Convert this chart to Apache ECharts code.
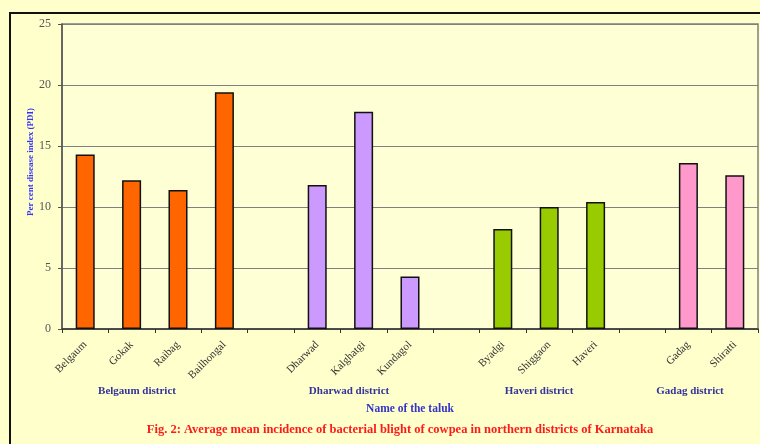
<!DOCTYPE html>
<html>
<head>
<meta charset="utf-8">
<style>
  html, body { margin: 0; padding: 0; background: #FFFFCC; }
  #chart { width: 760px; height: 444px; }
</style>
<script src="https://cdn.jsdelivr.net/npm/echarts@6/dist/echarts.min.js"></script>
</head>
<body>
<div id="chart"></div>
<script>
// talukas, with blank slots between districts
const taluks = ['Belgaum', 'Gokak', 'Raibag', 'Bailhongal', '',
  'Dharwad', 'Kalghatgi', 'Kundagol', '',
  'Byadgi', 'Shiggaon', 'Haveri', '',
  'Gadag', 'Shiratti'];
const pdi = [14.3, 12.2, 11.4, 19.4, null,
  11.8, 17.8, 4.3, null,
  8.2, 10.0, 10.4, null,
  13.6, 12.6];
const barColors = ['#FF6600', '#FF6600', '#FF6600', '#FF6600', null,
  '#CC99FF', '#CC99FF', '#CC99FF', null,
  '#99CC00', '#99CC00', '#99CC00', null,
  '#FF99CC', '#FF99CC'];
const districts = ['Belgaum district', 'Dharwad district', 'Haveri district', 'Gadag district'];
const districtX = [137, 349, 539, 690];
const yTicks = { min: 0, max: 25, interval: 5 };

const serif = '"Liberation Serif", "DejaVu Serif", serif';
const chart = echarts.init(document.getElementById('chart'));

const option = {
  backgroundColor: '#FFFFCC',
  animation: false,
  grid: { left: 62, right: 2, top: 24, bottom: 115, show: true, backgroundColor: '#FFFFD6', borderColor: '#808080', borderWidth: 1.5 },
  xAxis: {
    type: 'category',
    data: taluks,
    name: 'Name of the taluk',
    nameLocation: 'middle',
    nameGap: 74,
    nameTextStyle: { color: '#3333CC', fontFamily: serif, fontWeight: 'bold', fontSize: 11.5 },
    axisLine: { lineStyle: { color: '#333', width: 1.5 } },
    axisTick: { show: true, length: 4, lineStyle: { color: '#333' } },
    axisLabel: { rotate: 45, margin: 14, color: '#333', fontFamily: serif, fontSize: 11, interval: 0 }
  },
  yAxis: {
    type: 'value',
    min: yTicks.min,
    max: yTicks.max,
    interval: yTicks.interval,
    axisLine: { show: true, lineStyle: { color: '#555', width: 1.5 } },
    axisTick: { show: true, length: 4, lineStyle: { color: '#555' } },
    axisLabel: { color: '#555', fontFamily: serif, fontSize: 12, margin: 11 },
    splitLine: { lineStyle: { color: '#808080', width: 1.2 } }
  },
  series: [{
    type: 'bar',
    barWidth: '41%',
    data: pdi.map((v, i) => ({
      value: v,
      itemStyle: { color: barColors[i] || '#fff' }
    })),
    itemStyle: { borderColor: '#111', borderWidth: 1.5 }
  }],
  graphic: [
    {
      type: 'rect',
      shape: { x: 10, y: 13, width: 800, height: 500 },
      style: { fill: 'none', stroke: '#111', lineWidth: 2 },
      silent: true
    },
    {
      // y axis title, sits a bit above the plot's middle as in the original
      type: 'text',
      x: 31,
      y: 162,
      rotation: Math.PI / 2,
      style: {
        text: 'Per cent disease index (PDI)', fill: '#3333FF', font: 'bold 9px ' + serif,
        textAlign: 'center', textVerticalAlign: 'middle'
      }
    },
    ...districts.map((d, i) => ({
      type: 'text',
      x: districtX[i],
      y: 391,
      style: {
        text: d, fill: '#333399', font: 'bold 11px ' + serif,
        textAlign: 'center', textVerticalAlign: 'middle'
      }
    })),
    {
      type: 'text',
      x: 400,
      y: 430,
      style: {
        text: 'Fig. 2: Average mean incidence of bacterial blight of cowpea in northern districts of Karnataka',
        fill: '#FF1A1A', font: 'bold 12.5px ' + serif,
        textAlign: 'center', textVerticalAlign: 'middle'
      }
    }
  ]
};

chart.setOption(option);
</script>
</body>
</html>
